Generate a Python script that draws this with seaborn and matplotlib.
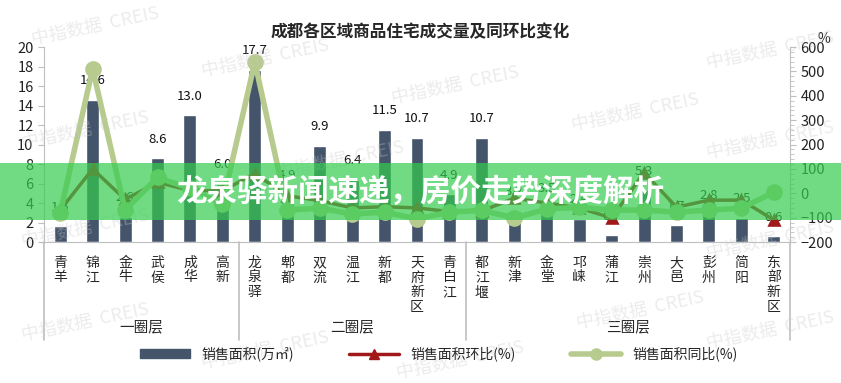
import pandas as pd
import seaborn as sns
import matplotlib.pyplot as plt
from matplotlib.patches import Rectangle, Patch
from matplotlib.lines import Line2D
from matplotlib.ticker import MultipleLocator

# data
districts = ["青羊", "锦江", "金牛", "武侯", "成华", "高新",
             "龙泉驿", "郫都", "双流", "温江", "新都", "天府新区", "青白江",
             "都江堰", "新津", "金堂", "邛崃", "蒲江", "崇州", "大邑", "彭州", "简阳", "东部新区"]
rings = ["一圈层"] * 6 + ["二圈层"] * 7 + ["三圈层"] * 10
area = [1.6, 14.6, 2.6, 8.6, 13.0, 6.0,
        17.7, 4.9, 9.9, 6.4, 11.5, 10.7, 4.9,
        10.7, 3.2, 3.5, 2.4, 0.7, 5.3, 1.7, 2.8, 2.5, 0.6]
mom = [-69, 100, -25, 45, 12, 10,
       81, -10, -30, -60, -55, -60, -75,
       -72, -20, -40, -60, -101, 85, -57, -28, -28, -109]
yoy = [-81, 511, -69, 65, 20, -45,
       539, -69, -61, -85, -77, -105, -77,
       -70, -101, -65, -57, -69, -69, -77, -69, -61, 4]

title = "成都各区域商品住宅成交量及同环比变化"
banner = "龙泉驿新闻速递，房价走势深度解析"

bar_color = "#44546A"
mom_color = "#A01818"
yoy_color = "#B7CB8E"
axis_gray = "#BFBFBF"

sns.set_style("white")
plt.rcParams['font.family'] = ['Noto Sans CJK SC', 'DejaVu Sans']

df = pd.DataFrame({"区域": districts, "圈层": rings, "销售面积": area, "环比": mom, "同比": yoy})

fig = plt.figure(figsize=(8.41, 3.83), dpi=100)
ax = fig.add_axes([0.0523, 0.368, 0.8871, 0.509])

sns.barplot(data=df, x="区域", y="销售面积", color=bar_color, width=0.4, saturation=1, ax=ax)
ax.bar_label(ax.containers[0], fmt="%.1f", padding=9, fontsize=9.5, color="#111111")

ax2 = ax.twinx()
sns.pointplot(data=df, x="区域", y="环比", color=mom_color, markers="^", markersize=7,
              linewidth=2.5, ax=ax2)
sns.pointplot(data=df, x="区域", y="同比", color=yoy_color, markers="o", markersize=9,
              linewidth=4, ax=ax2)

ax.set_ylim(0, 20)
ax.set_yticks(range(0, 21, 2))
ax2.set_ylim(-200, 600)
ax2.set_yticks(range(-200, 601, 100))
ax2.yaxis.set_minor_locator(MultipleLocator(20))
ax.set_xlim(-0.5, len(districts) - 0.5)

ax.set_xticks(range(len(districts)))
ax.set_xticklabels(["\n".join(d) for d in districts], fontsize=10, linespacing=1.05)
ax.tick_params(axis="x", length=0, pad=10)
ax.tick_params(axis="y", labelsize=10.5, colors="#222222", color=axis_gray, length=4, left=True)
ax2.tick_params(axis="y", labelsize=10.5, colors="#222222", color=axis_gray, length=4, right=True)
ax2.tick_params(axis="y", which="minor", color=axis_gray, length=3, right=True)
ax.set_xlabel("")
ax.set_ylabel("")
ax2.set_ylabel("")
ax2.set_xlabel("")

for s in ["top", "right"]:
    ax.spines[s].set_visible(False)
for s in ["top", "left", "bottom"]:
    ax2.spines[s].set_visible(False)
ax.spines["left"].set_color(axis_gray)
ax.spines["bottom"].set_color(axis_gray)
ax2.spines["right"].set_color(axis_gray)

ax2.text(1.045, 1.04, "%", transform=ax.transAxes, fontsize=10, ha="center", va="center")

# ring group separators and names
ring_names = list(dict.fromkeys(rings))
start = -0.5
ax.axvline(start, ymin=-0.5, ymax=0, clip_on=False, color=axis_gray, lw=1.2)
for name in ring_names:
    cnt = rings.count(name)
    end = start + cnt
    ax.axvline(end, ymin=-0.5, ymax=0, clip_on=False, color=axis_gray, lw=1.2)
    ax.text((start + end) / 2, -0.436, name, transform=ax.get_xaxis_transform(),
            ha="center", va="center", fontsize=10.5)
    start = end

fig.text(0.5, 0.917, title, ha="center", va="center", fontsize=12, fontweight="bold")

handles = [Patch(color=bar_color),
           Line2D([], [], color=mom_color, lw=2.5, marker="^", markersize=7),
           Line2D([], [], color=yoy_color, lw=4, marker="o", markersize=8)]
labels = ["销售面积(万㎡)", "销售面积环比(%)", "销售面积同比(%)"]
fig.legend(handles, labels, loc="center", bbox_to_anchor=(0.522, 0.076), ncol=3,
           frameon=False, fontsize=10, handlelength=3.6, handleheight=0.6, columnspacing=4)

# watermarks
marks = [(95, 26), (265, 58), (85, 130), (455, 85), (635, 112), (770, 50), (770, 140),
         (85, 228), (340, 160), (85, 322), (640, 310), (770, 330), (265, 350), (460, 360),
         (770, 240)]
for px, py in marks:
    fig.text(px / 841, 1 - py / 383, "中指数据  CREIS", ha="center", va="center",
             fontsize=13, color="#C8C8C8", alpha=0.35, rotation=12, zorder=5)

# green banner overlay
fig.add_artist(Rectangle((0, 0.4256), 1, 0.1488, transform=fig.transFigure,
                         facecolor="#33CD4F", alpha=0.7, edgecolor="none", zorder=10))
fig.text(0.5, 0.499, banner, ha="center", va="center", fontsize=22, fontweight="bold",
         color="white", zorder=11)

fig.savefig("out.png", dpi=100)
